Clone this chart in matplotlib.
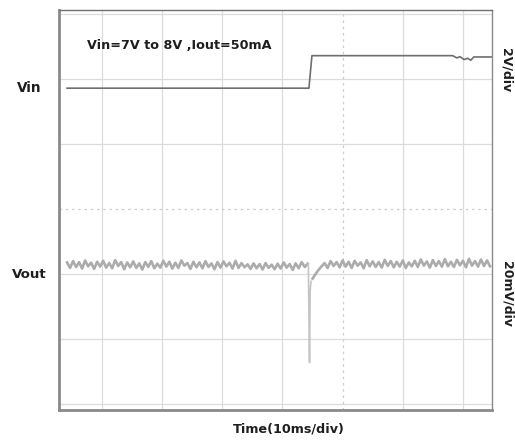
import numpy as np
import matplotlib
matplotlib.use("Agg")
import matplotlib.pyplot as plt

# scope settings
t_div = 10.0          # ms per division
vin_div = 2.0         # V per division
vin_offset = 3.28     # V at centre line
vout_div = 20.0       # mV per division
vout_pos = -0.86      # divisions, Vout trace position

# Vin trace (ms, V)
vin_t = [-5.8, 34.4, 34.9, 58.3, 59.0, 59.5, 60.2, 60.8, 61.3, 61.8, 64.8]
vin_v = [7.0, 7.0, 8.0, 8.0, 7.93, 7.97, 7.88, 7.92, 7.86, 7.96, 7.96]

# Vout ripple (mV around nominal), 0.5 ms samples
dt = 0.5
vout_pre_t0 = -5.8
vout_pre = [0.8, -0.9, 1.2, -0.6, 0.9, -1.1, 1.4, -0.4, 0.7, -1.2, 1.0, -0.5, 1.3, -0.8, 0.6, -1.0, 1.5, -0.3, 0.9, -1.3,
            0.8, -0.7, 1.1, -0.9, 0.5, -1.4, 0.9, -0.6, 1.2, -1.0, 0.4, -0.8, 1.3, -0.5, 1.0, -1.1, 0.7, -0.9, 1.4, -0.2,
            0.6, -1.2, 1.0, -0.7, 0.8, -1.0, 1.2, -0.6, 0.5, -1.3, 0.9, -0.8, 1.1, -0.4, 0.7, -1.1, 1.3, -0.9, 0.6, -0.7,
            0.2, -1.2, 0.5, -1.0, 0.3, -1.4, 0.6, -0.9, 0.1, -1.3, 0.4, -1.1, 0.8, -0.8, 0.3, -1.5, 0.5, -1.0, 0.9, -0.6, 0.4]
# load-step spike (ms, mV)
vout_dip_t = [34.3, 34.5, 34.6, 34.75]
vout_dip = [0.4, -30.0, -8.0, -5.0]
vout_post_t0 = 35.0
vout_post = [-4.2, -2.8, -1.5, -0.4, 0.6, -0.9, 1.2, -0.3, 0.9, -0.7, 1.4, -0.5, 1.0, -0.9, 1.3, -0.2, 0.8, -1.0, 1.5, -0.4,
             1.1, -0.6, 0.9, -0.8, 1.6, -0.3, 1.2, -0.7, 1.0, -0.5, 1.4, -0.9, 0.8, -0.4, 1.3, -0.6, 1.7, -0.2, 1.1, -0.8,
             1.5, -0.3, 1.2, -0.5, 1.8, -0.4, 1.0, -0.6, 1.6, -0.1, 1.3, -0.7, 1.9, -0.2, 1.2, -0.5, 1.7, -0.3, 1.4, -0.4]

pre_t = vout_pre_t0 + dt * np.arange(len(vout_pre))
post_t = vout_post_t0 + dt * np.arange(len(vout_post))

fig = plt.figure(figsize=(5.15, 4.42), dpi=100)
ax = fig.add_axes([0.1155, 0.0724, 0.8395, 0.9061])
ax.set_xlim(-7.06, 64.8)
ax.set_ylim(-3.09, 3.07)

# graticule
for gx in [0, 10, 20, 30, 50, 60]:
    ax.axvline(gx, color="#dcdcdc", lw=0.9, zorder=0)
for gy in [-3, -2, -1, 1, 2, 3]:
    ax.axhline(gy, color="#dcdcdc", lw=0.9, zorder=0)
ax.axvline(40, color="#cccccc", lw=0.9, ls=(0, (2, 3)), zorder=0)
ax.axhline(0, color="#cccccc", lw=0.9, ls=(0, (2, 3)), zorder=0)

ax.plot(vin_t, (np.array(vin_v) - vin_offset) / vin_div, color="#6e6e6e", lw=1.2)

ax.plot(pre_t, np.array(vout_pre) / vout_div + vout_pos, color="#acacac", lw=1.9)
ax.plot(vout_dip_t, np.array(vout_dip) / vout_div + vout_pos, color="#c4c4c4", lw=1.2)
ax.plot(post_t, np.array(vout_post) / vout_div + vout_pos, color="#acacac", lw=1.9)

ax.set_xticks([])
ax.set_yticks([])
ax.spines["left"].set_color("#8a8a8a")
ax.spines["left"].set_linewidth(2.0)
ax.spines["bottom"].set_color("#8a8a8a")
ax.spines["bottom"].set_linewidth(2.0)
ax.spines["top"].set_color("#707070")
ax.spines["top"].set_linewidth(1.0)
ax.spines["right"].set_color("#8a8a8a")
ax.spines["right"].set_linewidth(1.0)

txt = "#1e1e1e"
ax.text(0.064, 0.909, "Vin=7V to 8V ,Iout=50mA", transform=ax.transAxes,
        fontsize=9.2, fontweight="bold", color=txt, ha="left", va="center")

fig.text(29 / 515, 1 - 88 / 442, "Vin", fontsize=9.8, fontweight="bold", color=txt, ha="center", va="center")
fig.text(29 / 515, 1 - 275 / 442, "Vout", fontsize=9.6, fontweight="bold", color=txt, ha="center", va="center")
fig.text(506 / 515, 1 - 70 / 442, "2V/div", fontsize=9, fontweight="bold", color=txt,
         ha="center", va="center", rotation=-90)
fig.text(507 / 515, 1 - 294 / 442, "20mV/div", fontsize=9, fontweight="bold", color=txt,
         ha="center", va="center", rotation=-90)
fig.text(289 / 515, 1 - 429 / 442, "Time(10ms/div)", fontsize=9.2, fontweight="bold", color=txt,
         ha="center", va="center")

fig.savefig("out.png", dpi=100, facecolor="white")
